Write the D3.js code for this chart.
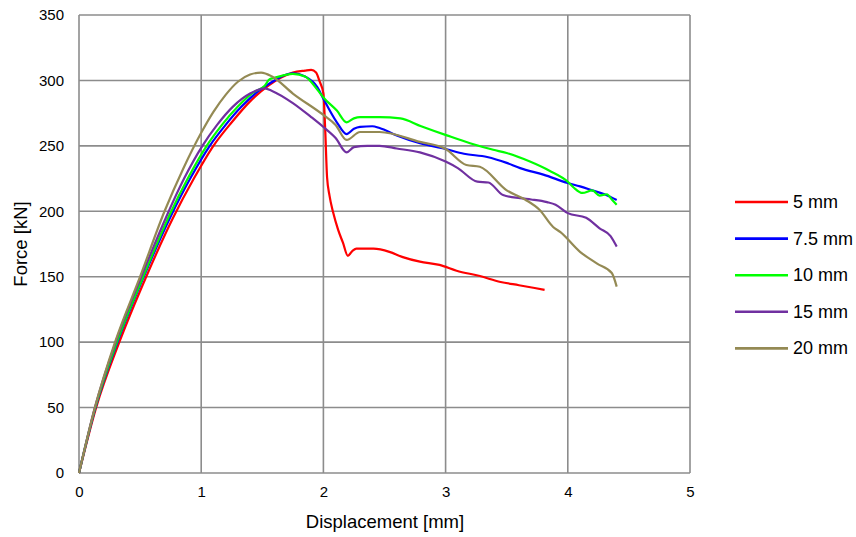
<!DOCTYPE html>
<html><head><meta charset="utf-8">
<script src="https://cdn.jsdelivr.net/npm/d3@7"></script>
<style>body{margin:0;background:#fff}svg{display:block}text{font-family:"Liberation Sans",Arial,sans-serif;fill:#000}</style>
</head><body><svg id="c" width="856" height="537"></svg>
<script>
const seriesNames = ["5 mm","7.5 mm","10 mm","15 mm","20 mm"];
const seriesColors = ["#ff0000","#0000ff","#00ff00","#7030a0","#948a54"];
const xTicks = [0,1,2,3,4,5];
const yTicks = [0,50,100,150,200,250,300,350];

const s5 = [[0,0],[0.14,50],[0.33,100],[0.55,150],[0.77,195],[0.94,225],[1.1,250],[1.25,268],[1.4,284],[1.55,296],[1.65,302],[1.75,306],[1.85,307.5],[1.9,308],[1.94,306],[1.97,299],[2.0,290],[2.015,262],[2.03,226],[2.05,212],[2.08,199],[2.12,186],[2.16,176],[2.2,166],[2.24,170],[2.27,171.5],[2.41,171.4],[2.54,169],[2.65,165],[2.79,161.5],[2.95,159],[3.09,154.6],[3.28,150.5],[3.45,146],[3.6,143.5],[3.81,140]];
const s75 = [[0,0],[0.135,50],[0.315,100],[0.53,150],[0.75,196],[0.91,225],[1.07,250],[1.2,266],[1.33,280],[1.47,292],[1.6,300],[1.68,304],[1.75,305.5],[1.85,303],[1.95,295],[2.0,286],[2.11,268],[2.19,259],[2.25,263],[2.3,264.5],[2.4,265],[2.46,263.6],[2.6,258],[2.79,252],[3.0,247.6],[3.15,244],[3.34,241.5],[3.5,237],[3.61,233],[3.8,228],[4.0,221.6],[4.1,219],[4.2,216],[4.3,213],[4.4,208.6]];
const s10 = [[0,0],[0.133,50],[0.31,100],[0.525,150],[0.74,197],[0.89,225],[1.045,250],[1.17,266],[1.3,280],[1.43,291],[1.52,296],[1.56,301],[1.6,302],[1.68,304],[1.75,305],[1.85,303],[1.95,293],[2.0,287],[2.11,277],[2.19,268],[2.25,271],[2.3,272],[2.46,272],[2.63,271],[2.8,265],[3.01,258],[3.2,252],[3.39,247],[3.5,244.5],[3.69,238],[3.85,231],[4.0,222.6],[4.05,218],[4.12,214],[4.2,216],[4.26,212],[4.32,213],[4.36,209],[4.4,205]];
const s15 = [[0,0],[0.13,50],[0.3,100],[0.51,150],[0.72,197],[0.86,225],[1.01,250],[1.13,266],[1.26,280],[1.4,290],[1.52,294],[1.58,292],[1.75,282.7],[1.9,272],[2.0,264.4],[2.1,256],[2.19,245],[2.25,249],[2.36,250],[2.46,250],[2.6,248],[2.79,245],[3.0,238],[3.1,233],[3.26,222.6],[3.35,222],[3.47,212.4],[3.61,210],[3.7,209],[3.83,207],[3.9,205],[4.0,198.6],[4.15,195],[4.26,187],[4.35,181],[4.4,173]];
const s20 = [[0,0],[0.13,50],[0.295,100],[0.5,150],[0.7,200],[0.85,232],[1.0,260],[1.1,276],[1.2,289],[1.3,299],[1.4,304.5],[1.49,306],[1.58,303],[1.75,290],[2.0,273.6],[2.1,266],[2.19,254.5],[2.3,260.6],[2.46,260.6],[2.79,253],[3.0,247.6],[3.17,235.4],[3.28,234],[3.5,216],[3.65,209],[3.77,201],[3.88,188],[3.94,184],[4.1,169],[4.24,160],[4.36,152.8],[4.4,142.4]];
const seriesData = [s5, s75, s10, s15, s20];

const svg = d3.select("#c");
const m = {l:79, r:690, t:15, b:473};
const x = d3.scaleLinear().domain([0,5]).range([m.l, m.r]);
const y = d3.scaleLinear().domain([0,350]).range([m.b, m.t]);
const gridColor = "#8c8c8c";

const g = svg.append("g");
g.selectAll("line.vx").data(xTicks).join("line")
  .attr("x1", d=>x(d)).attr("x2", d=>x(d)).attr("y1", m.t).attr("y2", m.b)
  .attr("stroke", gridColor).attr("stroke-width", 1.6);
g.selectAll("line.hy").data(yTicks).join("line")
  .attr("x1", m.l).attr("x2", m.r).attr("y1", d=>y(d)).attr("y2", d=>y(d))
  .attr("stroke", gridColor).attr("stroke-width", 1.6);

const xAxis = d3.axisBottom(x).tickValues(xTicks).tickSize(0).tickPadding(13).tickFormat(d3.format("d"));
const yAxis = d3.axisLeft(y).tickValues(yTicks).tickSize(0).tickPadding(15).tickFormat(d3.format("d"));
const gx = svg.append("g").attr("transform", `translate(0,${m.b})`).call(xAxis);
const gy = svg.append("g").attr("transform", `translate(${m.l},0)`).call(yAxis);
[gx, gy].forEach(a => { a.select(".domain").remove(); a.selectAll("text").style("font-size","15px").style("font-family","Liberation Sans, Arial, sans-serif").attr("fill","#000"); });

const line = d3.line().x(d=>x(d[0])).y(d=>y(d[1])).curve(d3.curveMonotoneX);
seriesData.forEach((d,i) => {
  svg.append("path").datum(d).attr("d", line).attr("fill","none")
    .attr("stroke", seriesColors[i]).attr("stroke-width", 2.2).attr("stroke-linejoin","round");
});

svg.append("text").attr("x", 385).attr("y", 528).attr("text-anchor","middle").style("font-size","18.5px").text("Displacement [mm]");
svg.append("text").attr("transform","translate(27,244) rotate(-90)").attr("text-anchor","middle").style("font-size","18.5px").text("Force [kN]");

const lg = svg.append("g");
seriesNames.forEach((n,i) => {
  const yy = 202 + i*36.6;
  lg.append("line").attr("x1",735).attr("x2",788).attr("y1",yy).attr("y2",yy).attr("stroke",seriesColors[i]).attr("stroke-width",2.6);
  lg.append("text").attr("x",793).attr("y",yy+6).style("font-size","18px").text(n);
});
</script></body></html>
